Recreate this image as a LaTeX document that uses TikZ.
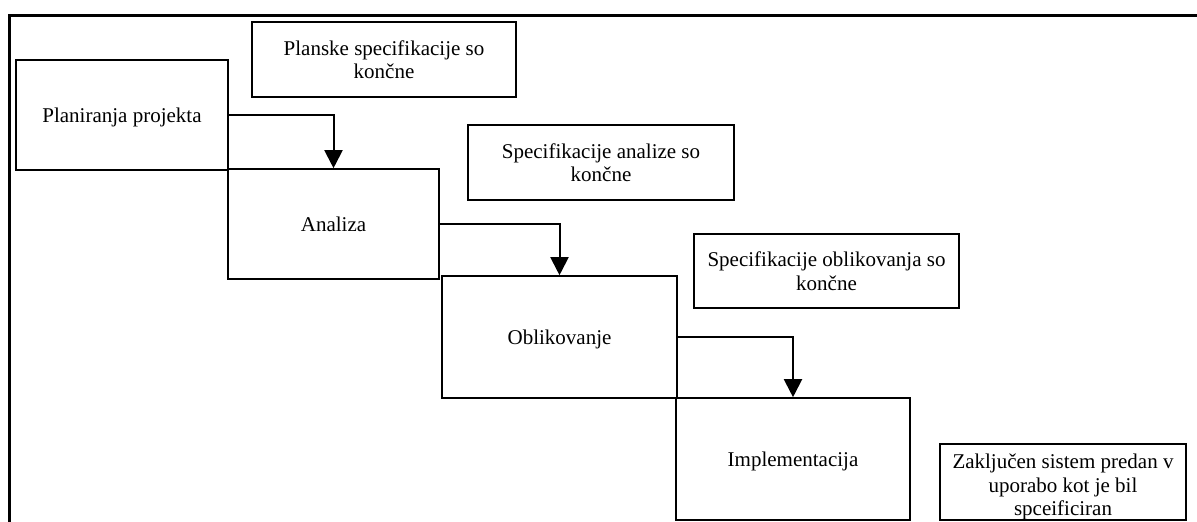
\documentclass[tikz,border=0pt]{standalone}
\usepackage{fontspec}
\setmainfont{Liberation Serif}
\usetikzlibrary{arrows.meta}

\begin{document}
\begin{tikzpicture}[
  x=1pt, y=-1pt,
  phase/.style={draw, line width=1.6pt, inner sep=0pt, rectangle,
    font=\fontsize{21}{23.5}\selectfont, text height=14.5pt, text depth=0pt},
  milestone/.style={draw, line width=1.6pt, inner sep=0pt, rectangle,
    align=center, font=\fontsize{21}{23.5}\selectfont},
  flow/.style={line width=2pt, -{Triangle[width=18pt,length=18pt]}},
  frame/.style={line width=3pt}
]
\useasboundingbox (0,0) rectangle (1197,522);

% page frame, open on the right and at the bottom
\draw[frame] (9.5,522) -- (9.5,15) -- (1197,15);

% waterfall phases
\node[phase, minimum width=212pt, minimum height=110pt] (plan) at (122,115) {Planiranja projekta};
\node[phase, minimum width=211pt, minimum height=110pt] (anal) at (333.5,224) {Analiza};
\node[phase, minimum width=235pt, minimum height=122pt] (obli) at (559.5,337) {Oblikovanje};
\node[phase, minimum width=234pt, minimum height=122pt] (impl) at (793,459) {Implementacija};

% milestones reached at the end of each phase
\node[milestone, minimum width=264pt, minimum height=75pt] (m1) at (384,59.5)
  {Planske specifikacije so\\končne};
\node[milestone, minimum width=266pt, minimum height=75pt] (m2) at (601,162.5)
  {Specifikacije analize so\\končne};
\node[milestone, minimum width=265pt, minimum height=74pt] (m3) at (826.5,271)
  {Specifikacije oblikovanja so\\končne};
% the last box sets its text a little low, so the first line gets a taller strut
\node[milestone, minimum width=246pt, minimum height=74pt] (m4) at (1063,482)
  {\rule{0pt}{25pt}Zaključen sistem predan v\\uporabo kot je bil\\spceificiran};

% transitions between phases
\draw[flow] (plan.east) -| (anal.north);
\draw[flow] (anal.east) -| (obli.north);
\draw[flow] (obli.east) -| (impl.north);
\end{tikzpicture}
\end{document}
